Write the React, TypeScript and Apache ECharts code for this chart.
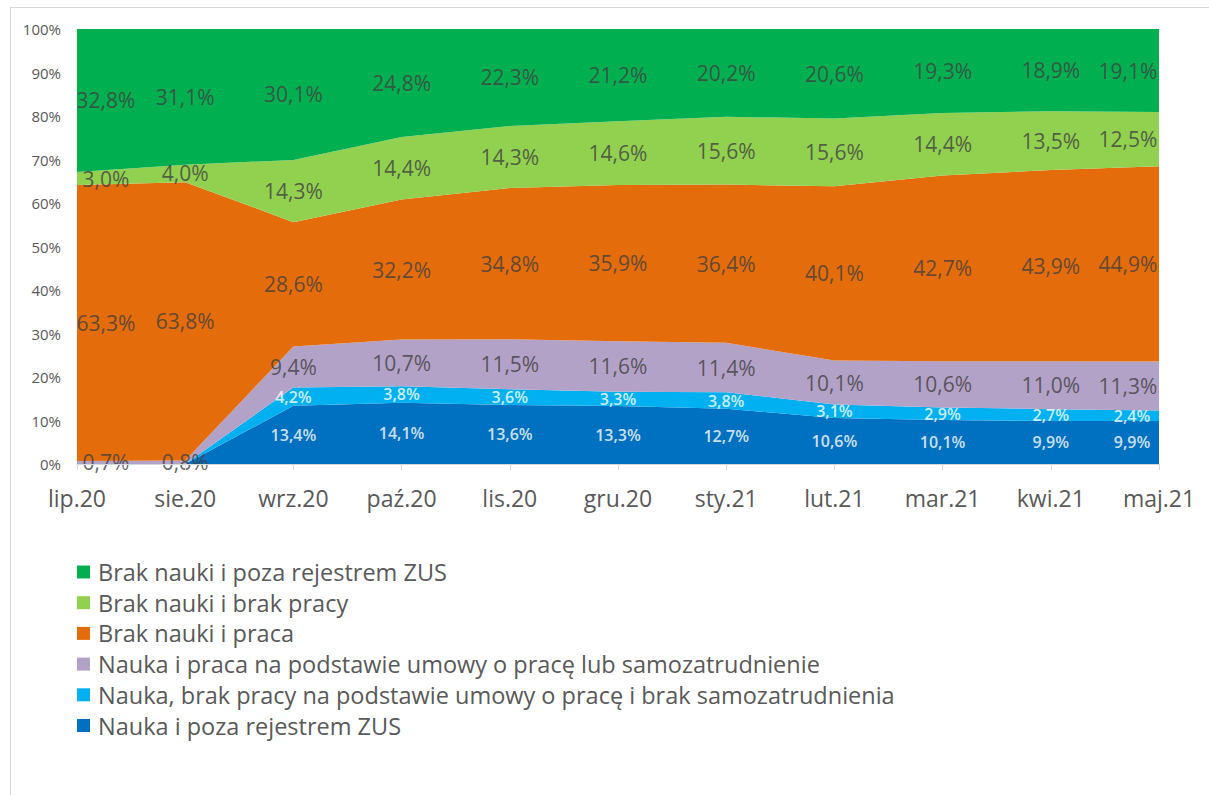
import React, { useEffect, useRef } from 'react';
import * as echarts from 'echarts';

const categories = ['lip.20', 'sie.20', 'wrz.20', 'paź.20', 'lis.20', 'gru.20', 'sty.21', 'lut.21', 'mar.21', 'kwi.21', 'maj.21'];

// bottom -> top order of the stack
const naukaPozaZUS = [0, 0, 13.4, 14.1, 13.6, 13.3, 12.7, 10.6, 10.1, 9.9, 9.9];
const naukaBrakPracy = [0, 0, 4.2, 3.8, 3.6, 3.3, 3.8, 3.1, 2.9, 2.7, 2.4];
const naukaPraca = [0.7, 0.8, 9.4, 10.7, 11.5, 11.6, 11.4, 10.1, 10.6, 11.0, 11.3];
const brakNaukiPraca = [63.3, 63.8, 28.6, 32.2, 34.8, 35.9, 36.4, 40.1, 42.7, 43.9, 44.9];
const brakNaukiBrakPracy = [3.0, 4.0, 14.3, 14.4, 14.3, 14.6, 15.6, 15.6, 14.4, 13.5, 12.5];
const brakNaukiPozaZUS = [32.8, 31.1, 30.1, 24.8, 22.3, 21.2, 20.2, 20.6, 19.3, 18.9, 19.1];

const seriesNames = [
  'Nauka i poza rejestrem ZUS',
  'Nauka, brak pracy na podstawie umowy o pracę i brak samozatrudnienia',
  'Nauka i praca na podstawie umowy o pracę lub samozatrudnienie',
  'Brak nauki i praca',
  'Brak nauki i brak pracy',
  'Brak nauki i poza rejestrem ZUS',
];
const seriesValues = [naukaPozaZUS, naukaBrakPracy, naukaPraca, brakNaukiPraca, brakNaukiBrakPracy, brakNaukiPozaZUS];
const seriesColors = ['#0070C0', '#00B0F0', '#B3A2C7', '#E46C0A', '#92D050', '#00B050'];
const whiteLabel = [true, true, false, false, false, false];

const yTicks = [0, 10, 20, 30, 40, 50, 60, 70, 80, 90, 100];

const FONT = "'Open Sans', sans-serif";

export default function App() {
  const ref = useRef<HTMLDivElement>(null);
  useEffect(() => {
    document.body.style.margin = '0';
    const chart = echarts.init(ref.current as HTMLDivElement, null, { renderer: 'svg' });
    const n = categories.length;
    const totals = categories.map((_, j) => seriesValues.reduce((s, arr) => s + arr[j], 0));
    const pct = (v: number, j: number) => (v / totals[j]) * 100;

    const areaSeries = seriesValues.map((vals, i) => ({
      name: seriesNames[i],
      type: 'line',
      stack: 'total',
      symbol: 'none',
      lineStyle: { width: 0 },
      areaStyle: { color: seriesColors[i], opacity: 1 },
      itemStyle: { color: seriesColors[i] },
      data: vals.map((v, j) => pct(v, j)),
      z: 2,
    }));

    const labelSeries = seriesValues.map((vals, i) => {
      const white = whiteLabel[i];
      const data: any[] = [];
      vals.forEach((v, j) => {
        if (!v) return;
        let below = 0;
        for (let k = 0; k < i; k++) below += seriesValues[k][j];
        const mid = pct(below + v / 2, j);
        const off = j === 0 ? 29 : j === n - 1 ? (white ? -27 : -31) : 0;
        data.push({ value: [j, mid], raw: v, label: { offset: [off, 0] } });
      });
      return {
        name: 'lbl' + i,
        type: 'scatter',
        symbolSize: 0,
        silent: true,
        z: 5,
        data,
        label: {
          show: true,
          position: 'inside',
          fontFamily: FONT,
          fontSize: white ? 16 : 21,
          fontWeight: white ? 600 : 'normal',
          color: white ? '#FFFFFF' : '#404040',
          formatter: (p: any) => p.data.raw.toFixed(1).replace('.', ',') + '%',
        },
      };
    });

    chart.setOption({
      animation: false,
      backgroundColor: '#FFFFFF',
      textStyle: { fontFamily: FONT },
      grid: { left: 77, right: 50, top: 29, bottom: 331, containLabel: false },
      legend: {
        orient: 'vertical',
        left: 72,
        top: 555,
        data: seriesNames.slice().reverse(),
        icon: 'rect',
        itemWidth: 13,
        itemHeight: 13,
        itemGap: 6.7,
        textStyle: { fontFamily: FONT, fontSize: 23.5, color: '#595959', lineHeight: 21, padding: [0, 0, 0, 3] },
      },
      xAxis: {
        type: 'category',
        data: categories,
        boundaryGap: false,
        axisLine: { show: true, lineStyle: { color: '#D9D9D9' } },
        axisTick: { show: true, length: 6, lineStyle: { color: '#D9D9D9' } },
        axisLabel: { fontFamily: FONT, fontSize: 23, color: '#595959', margin: 22 },
        splitLine: { show: false },
        z: 10,
      },
      yAxis: {
        type: 'value',
        min: yTicks[0],
        max: yTicks[yTicks.length - 1],
        interval: 10,
        axisLine: { show: false },
        axisTick: { show: false },
        splitLine: { show: false },
        axisLabel: { fontFamily: FONT, fontSize: 15, color: '#595959', margin: 16, formatter: '{value}%' },
      },
      graphic: [
        { type: 'line', shape: { x1: 10, y1: 7.5, x2: 1209, y2: 7.5 }, style: { stroke: '#D9D9D9', lineWidth: 1 } },
        { type: 'line', shape: { x1: 10.5, y1: 7, x2: 10.5, y2: 795 }, style: { stroke: '#D9D9D9', lineWidth: 1 } },
      ],
      series: [...areaSeries, ...labelSeries],
    });
    return () => chart.dispose();
  }, []);
  return <div ref={ref} style={{ width: 1209, height: 795 }} />;
}
